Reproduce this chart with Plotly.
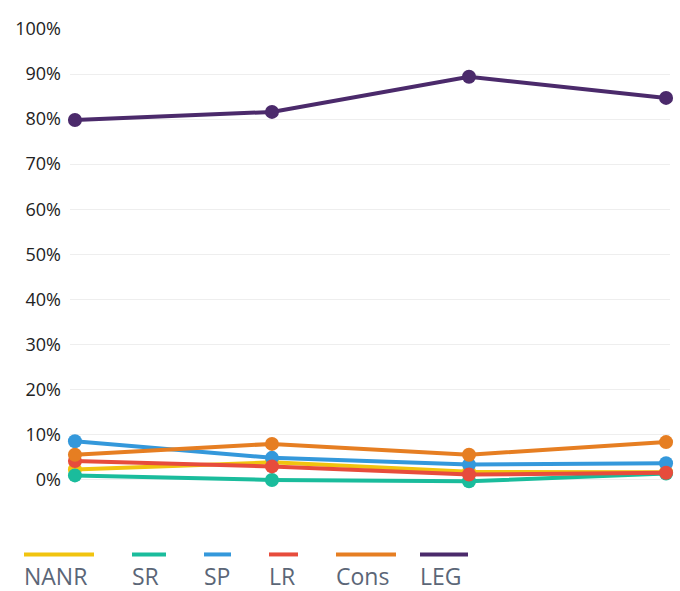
import plotly.graph_objects as go

x_idx = [0, 1, 2, 3]
series_names = ["NANR", "SR", "SP", "LR", "Cons", "LEG"]
nanr = [2.2, 3.8, 1.7, 1.6]
sr = [0.9, -0.1, -0.4, 1.3]
sp = [8.5, 4.8, 3.3, 3.6]
lr = [4.1, 2.9, 1.1, 1.5]
cons = [5.5, 7.9, 5.5, 8.3]
leg = [79.8, 81.6, 89.4, 84.7]
y_ticks = [0, 10, 20, 30, 40, 50, 60, 70, 80, 90, 100]
y_tick_labels = [f"{v}%" for v in y_ticks]

colors = ["#f1c40f", "#1abc9c", "#3498db", "#e74c3c", "#e67e22", "#4b2a6b"]
values = [nanr, sr, sp, lr, cons, leg]

fig = go.Figure()
for name, vals, col in zip(series_names, values, colors):
    fig.add_trace(go.Scatter(
        x=x_idx, y=vals, name=name, mode="lines+markers",
        line=dict(color=col, width=4),
        marker=dict(color=col, size=14),
        cliponaxis=False, showlegend=False,
    ))

# custom legend: line above label
leg_pos = [(24, 94), (132, 166), (204, 231), (269, 298), (336, 396), (420, 468)]
W, H = 680, 591
for (x0, x1), name, col in zip(leg_pos, series_names, colors):
    fig.add_shape(type="line", xref="paper", yref="paper",
                  x0=(x0 - 70) / 600, x1=(x1 - 70) / 600,
                  y0=(502.5 - 555) / 473.5, y1=(502.5 - 555) / 473.5,
                  line=dict(color=col, width=4))
    fig.add_annotation(xref="paper", yref="paper", x=(x0 - 70) / 600,
                       y=(502.5 - 576.5) / 473.5, text=name, showarrow=False,
                       xanchor="left", yanchor="middle", xshift=-2,
                       font=dict(family="Open Sans", size=23, color="#5b6677"))

fig.update_layout(
    width=W, height=H,
    margin=dict(l=70, r=10, t=29, b=88.5),
    paper_bgcolor="white", plot_bgcolor="white",
    font=dict(family="Open Sans", size=18, color="#222"),
    xaxis=dict(range=[-0.025, 3.02], showgrid=False, showticklabels=False,
               zeroline=False, showline=False),
    yaxis=dict(range=[-5, 100], tickvals=y_ticks, ticktext=y_tick_labels,
               showgrid=True, gridcolor="#eeeeee", gridwidth=1,
               zeroline=False, showline=False, ticklabelstandoff=8),
)

fig.write_html("out.html", config={"displayModeBar": False},
               post_script="document.body.style.margin='0';document.body.style.overflow='hidden';")
